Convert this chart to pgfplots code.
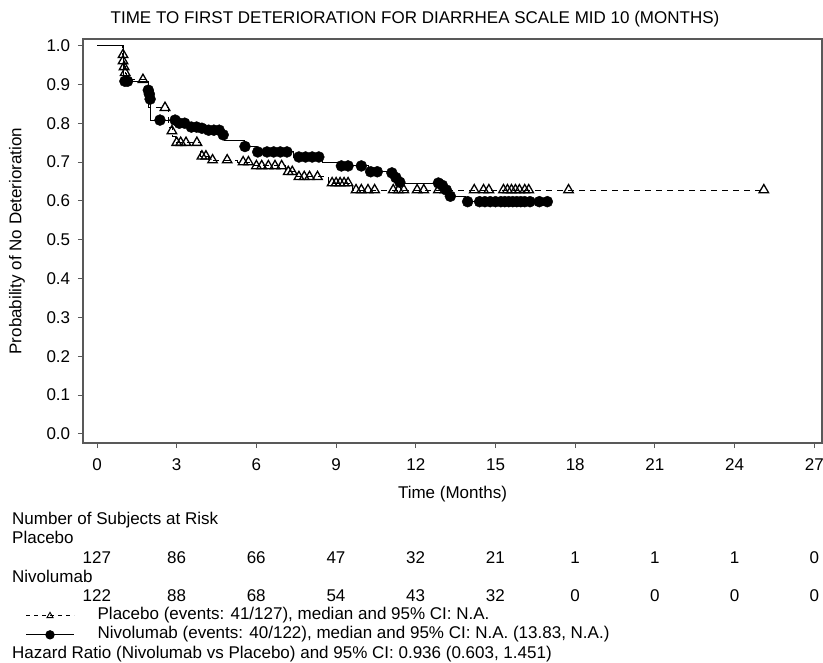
\documentclass[border=0pt]{standalone}
\usepackage{fontspec}
\setmainfont{Liberation Sans}
\usepackage{pgfplots}
\pgfplotsset{compat=1.18}
\pgfplotstableread{
t s
0 1.0
0.95 0.976
1.0 0.96
1.03 0.945
1.07 0.928
1.1 0.912
1.95 0.84
2.7 0.79
2.85 0.765
2.95 0.75
3.9 0.715
4.2 0.705
5.3 0.70
5.9 0.69
7.1 0.675
7.5 0.662
8.7 0.646
9.6 0.628
25.15 0.628
}\placebostep
\pgfplotstableread{
t s
0.98 0.976
0.98 0.96
1.02 0.945
1.06 0.93
1.73 0.912
2.56 0.84
2.82 0.78
3.0 0.75
3.15 0.75
3.35 0.75
3.76 0.75
3.95 0.715
4.1 0.715
4.35 0.705
4.9 0.705
5.5 0.70
5.7 0.70
6.0 0.69
6.2 0.69
6.45 0.69
6.7 0.69
6.95 0.69
7.2 0.675
7.35 0.675
7.6 0.662
7.8 0.662
8.0 0.662
8.3 0.662
8.85 0.646
9.0 0.646
9.15 0.646
9.3 0.646
9.45 0.646
9.75 0.628
9.95 0.628
10.2 0.628
10.45 0.628
11.15 0.628
11.35 0.628
11.55 0.628
12.05 0.628
12.3 0.628
12.85 0.628
13.1 0.628
14.2 0.628
14.55 0.628
14.75 0.628
15.3 0.628
15.45 0.628
15.6 0.628
15.75 0.628
15.9 0.628
16.1 0.628
16.25 0.628
17.75 0.628
25.1 0.628
}\placebocens
\pgfplotstableread{
t s
0 1.0
0.98 0.908
1.95 0.885
1.98 0.865
2.02 0.808
3.05 0.80
3.5 0.79
4.0 0.782
4.8 0.755
5.55 0.74
6.0 0.726
7.4 0.713
8.5 0.70
9.1 0.69
10.2 0.675
11.1 0.66
11.3 0.646
13.1 0.628
13.25 0.612
13.85 0.598
17.0 0.598
}\nivostep
\pgfplotstableread{
t s
1.05 0.908
1.15 0.908
1.93 0.885
1.97 0.875
2.0 0.862
2.37 0.808
2.94 0.808
3.1 0.80
3.3 0.80
3.55 0.79
3.75 0.79
3.95 0.787
4.2 0.782
4.4 0.782
4.6 0.782
4.75 0.77
5.57 0.74
6.05 0.726
6.4 0.726
6.65 0.726
6.9 0.726
7.15 0.726
7.6 0.713
7.85 0.713
8.1 0.713
8.35 0.713
9.2 0.69
9.45 0.69
9.95 0.69
10.3 0.675
10.55 0.675
11.1 0.672
11.25 0.66
11.4 0.648
12.85 0.646
13.0 0.64
13.15 0.628
13.3 0.612
13.95 0.598
14.4 0.598
14.6 0.598
14.8 0.598
15.0 0.598
15.2 0.598
15.35 0.598
15.5 0.598
15.65 0.598
15.8 0.598
15.95 0.598
16.1 0.598
16.3 0.598
16.65 0.598
16.95 0.598
}\nivocens
\begin{document}
\fontsize{17bp}{19bp}\selectfont
\begin{tikzpicture}[x=1bp,y=1bp]
\useasboundingbox (0,0) rectangle (823,-663);
\begin{axis}[
  at={(83bp,-443bp)}, anchor=south west,
  width=739bp, height=404bp, scale only axis,
  xmin=-0.527, xmax=27.29, ymin=-0.0232, ymax=1.0167,
  xtick={0,3,...,27},
  ytick={0,0.1,0.2,0.3,0.4,0.5,0.6,0.7,0.8,0.9,1.0},
  y tick label style={/pgf/number format/fixed, /pgf/number format/fixed zerofill, /pgf/number format/precision=1, xshift=-2bp},
  x tick label style={yshift=-5bp},
  /pgf/number format/assume math mode=true,
  tick align=outside, xtick pos=bottom, ytick pos=left,
  major tick length=5bp,
  axis line style={draw=black!65, line width=1.3bp},
  every tick/.style={draw=black!65, line width=1bp},
  tick label style={font=\fontsize{17bp}{19bp}\selectfont},
  label style={font=\fontsize{17bp}{19bp}\selectfont},
  xlabel={Time (Months)}, ylabel={Probability of No Deterioration},
  x label style={at={(axis description cs:0.5,-0.126)}, anchor=center},
  y label style={at={(axis description cs:-0.0893,0.5)}, anchor=center},
  clip=false,
  legend style={at={(axis description cs:-0.078,-0.408)}, anchor=north west,
    draw=none, fill=none, inner sep=0pt, outer sep=0pt, row sep=3bp,
    font=\fontsize{17bp}{19bp}\selectfont,
    nodes={inner sep=0pt, text height=12bp, text depth=4bp},
    /tikz/every odd column/.append style={column sep=23bp}},
  legend cell align=left,
  legend image code/.code={\draw[mark repeat=2,mark phase=2,#1] plot coordinates {(0bp,0bp) (24bp,0bp) (48bp,0bp)};},
]
\addplot[const plot, black, line width=0.9bp, dash pattern=on 6bp off 5bp, forget plot] table[x=t,y=s] {\placebostep};
\addplot[const plot, black, line width=0.9bp, forget plot] table[x=t,y=s] {\nivostep};
\addplot[only marks, mark=triangle, mark size=5.5bp, mark options={black, line width=1.3bp, fill=white}, forget plot] table[x=t,y=s] {\placebocens};
\addplot[only marks, mark=*, mark size=5.5bp, mark options={black, fill=black}, forget plot] table[x=t,y=s] {\nivocens};
\addlegendimage{black, line width=0.9bp, dash pattern=on 4bp off 4bp, mark=triangle, mark size=3.5bp, mark options={solid, line width=0.9bp}}
\addlegendentry{Placebo (events: 41/127), median and 95\% CI: N.A.}
\addlegendimage{black, line width=1.3bp, mark=*, mark size=4bp}
\addlegendentry{Nivolumab (events: 40/122), median and 95\% CI: N.A. (13.83, N.A.)}
\end{axis}
\node[anchor=base] at (415,-24) {TIME TO FIRST DETERIORATION FOR DIARRHEA SCALE MID 10 (MONTHS)};
\node[anchor=base west, inner sep=0pt] at (12,-524) {Number of Subjects at Risk};
\node[anchor=base west, inner sep=0pt] at (12,-543) {Placebo};
\foreach \n [count=\i from 0] in {127,86,66,47,32,21,1,1,1,0}
  \node[anchor=base, inner sep=0pt] at ({96.8+79.72*\i},-563) {\n};
\node[anchor=base west, inner sep=0pt] at (12,-582) {Nivolumab};
\foreach \n [count=\i from 0] in {122,88,68,54,43,32,0,0,0,0}
  \node[anchor=base, inner sep=0pt] at ({96.8+79.72*\i},-601) {\n};
\node[anchor=base west, inner sep=0pt] at (12,-658) {Hazard Ratio (Nivolumab vs Placebo) and 95\% CI: 0.936 (0.603, 1.451)};
\end{tikzpicture}
\end{document}
